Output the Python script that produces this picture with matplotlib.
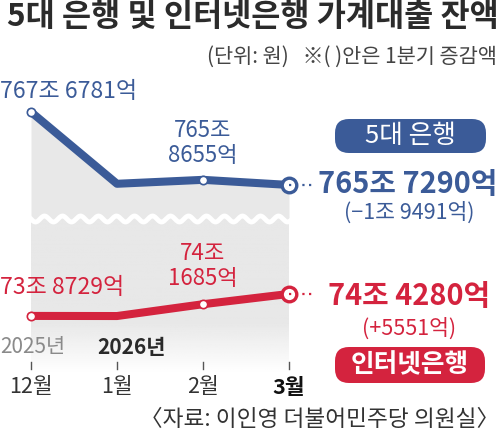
import numpy as np
import matplotlib
matplotlib.use('Agg')
import matplotlib.pyplot as plt
from matplotlib.lines import Line2D
from matplotlib.patches import FancyBboxPatch
from matplotlib.transforms import Affine2D, blended_transform_factory

plt.rcParams['font.family'] = ['Noto Sans CJK KR', 'DejaVu Sans']

# data (unit: 조 원)
months = ['12월', '1월', '2월', '3월']
big5 = [767.6781, 765.76, 765.8655, 765.7290]
internet = [73.8729, 73.87, 74.1685, 74.4280]

BLUE = '#3b5b98'
RED = '#d4233e'
GREY = '#e8e8e8'

W, H = 500, 436
fig = plt.figure(figsize=(W / 100, H / 100), dpi=100)
# pixel coords, origin top-left
pix = Affine2D().scale(1, -1).translate(0, H) + fig.dpi_scale_trans.inverted() + fig.dpi_scale_trans

x = np.arange(len(months))
xlim = (-31 / 86, (W - 31) / 86)


def add_ax(top, bottom):
    ax = fig.add_axes([0, 1 - bottom / H, 1, (bottom - top) / H])
    ax.set_axis_off()
    ax.set_xlim(*xlim)
    return ax


# top panel: 5 big banks (broken axis)
ax_top = add_ax(95, 219)
ax_top.set_ylim(764.82, 768.13)
ax_top.fill_between(x, big5, 764.82, color=GREY, lw=0, zorder=1)
ax_top.plot(x, big5, color=BLUE, lw=5.8, solid_capstyle='round', zorder=3)
ax_top.plot(x[[0, 2]], np.array(big5)[[0, 2]], 'o', ms=6, mfc='white', mec=BLUE, mew=1.2, zorder=4)
ax_top.plot(x[3], big5[3], 'o', ms=10.5, mfc='white', mec=BLUE, mew=2.4, zorder=4, clip_on=False)
ax_top.plot([3, 3.28], [big5[3]] * 2, ls=(0, (1, 2)), color=BLUE, lw=1.6, zorder=5, clip_on=False)

# bottom panel: internet banks
ax_bot = add_ax(219, 400)
ax_bot.set_ylim(71.75, 76.32)
rows = np.linspace(219, 400, 200)
alpha = np.clip((372 - rows) / (372 - 322), 0, 1)
grad = np.ones((200, 1, 4))
grad[:, 0, :3] = matplotlib.colors.to_rgb(GREY)
grad[:, 0, 3] = alpha
ax_bot.imshow(grad, extent=[0, 3, 71.75, 76.32], aspect='auto', zorder=1)
ax_bot.set_xlim(*xlim)
ax_bot.set_ylim(71.75, 76.32)
ax_bot.plot(x, internet, color=RED, lw=5.8, solid_capstyle='round', zorder=3)
ax_bot.plot(x[[0, 2]], np.array(internet)[[0, 2]], 'o', ms=6, mfc='white', mec=RED, mew=1.2, zorder=4)
ax_bot.plot(x[3], internet[3], 'o', ms=10.5, mfc='white', mec=RED, mew=2.4, zorder=4)
ax_bot.plot([3, 3.28], [internet[3]] * 2, ls=(0, (1, 2)), color=RED, lw=1.6, zorder=5, clip_on=False)

# wavy break line
wx = np.linspace(31, 290, 300)
wy = 219 + 3 * np.sin(2 * np.pi * (wx - 31) / 18)
fig.add_artist(Line2D(wx, wy, color='white', lw=3.5, transform=pix, zorder=10))

# x axis ticks and month labels
bt = blended_transform_factory(ax_bot.transData, pix)
for i, m in enumerate(months):
    fig.add_artist(Line2D([i, i], [362, 369], color='#555555', lw=1, transform=bt))
    fig.text(i, 387, m, transform=bt, ha='center', va='center', fontsize=15.5,
             color='#111111' if i == 3 else '#333333', fontweight='bold' if i == 3 else 'normal')
fig.text(0, 347, '2025년', transform=pix, ha='left', va='center', fontsize=15, color='#8a8a8a')
fig.text(97, 347, '2026년', transform=pix, ha='left', va='center', fontsize=15, color='#2a2a2a',
         fontweight='bold')

# title and notes
fig.text(7, 17, '5대 은행 및 인터넷은행 가계대출 잔액', transform=pix, ha='left', va='center',
         fontsize=22.8, fontweight='bold', color='#2b2b2b')
fig.text(497, 57, '(단위: 원)   ※( )안은 1분기 증감액', transform=pix, ha='right', va='center',
         fontsize=15, color='#444444')
fig.text(499, 420, '〈자료: 이인영 더불어민주당 의원실〉', transform=pix, ha='right', va='center',
         fontsize=16.3, color='#333333')

# value labels
fig.text(0, 92, '767조 6781억', transform=pix, ha='left', va='center', fontsize=16.6, color=BLUE)
fig.text(203, 143, '765조\n8655억', transform=pix, ha='center', va='center', fontsize=16,
         color=BLUE, linespacing=1.1)
fig.text(0, 288, '73조 8729억', transform=pix, ha='left', va='center', fontsize=16.6, color=RED)
fig.text(203, 266, '74조\n1685억', transform=pix, ha='center', va='center', fontsize=16,
         color=RED, linespacing=1.1)

fig.text(497, 184, '765조 7290억', transform=pix, ha='right', va='center', fontsize=20.8,
         fontweight='bold', color=BLUE)
fig.text(409, 213, '(−1조 9491억)', transform=pix, ha='center', va='center', fontsize=15.5, color=BLUE)
fig.text(490, 296, '74조 4280억', transform=pix, ha='right', va='center', fontsize=20.8,
         fontweight='bold', color=RED)
fig.text(409, 329, '(+5551억)', transform=pix, ha='center', va='center', fontsize=15.5, color=RED)

# series name pills
for (px, py, w, h), name, col in [((335, 119, 151, 34), '5대 은행', BLUE),
                                   ((335, 347, 150, 36), '인터넷은행', RED)]:
    fig.add_artist(FancyBboxPatch((px, py), w, h, boxstyle='round,pad=0,rounding_size=14',
                                  fc=col, ec='none', transform=pix))
    fig.text(px + w / 2, py + h / 2, name, transform=pix, ha='center', va='center', fontsize=18.5,
             color='white', fontweight='bold' if col == RED else 'normal')

fig.savefig('out.png', dpi=100)
